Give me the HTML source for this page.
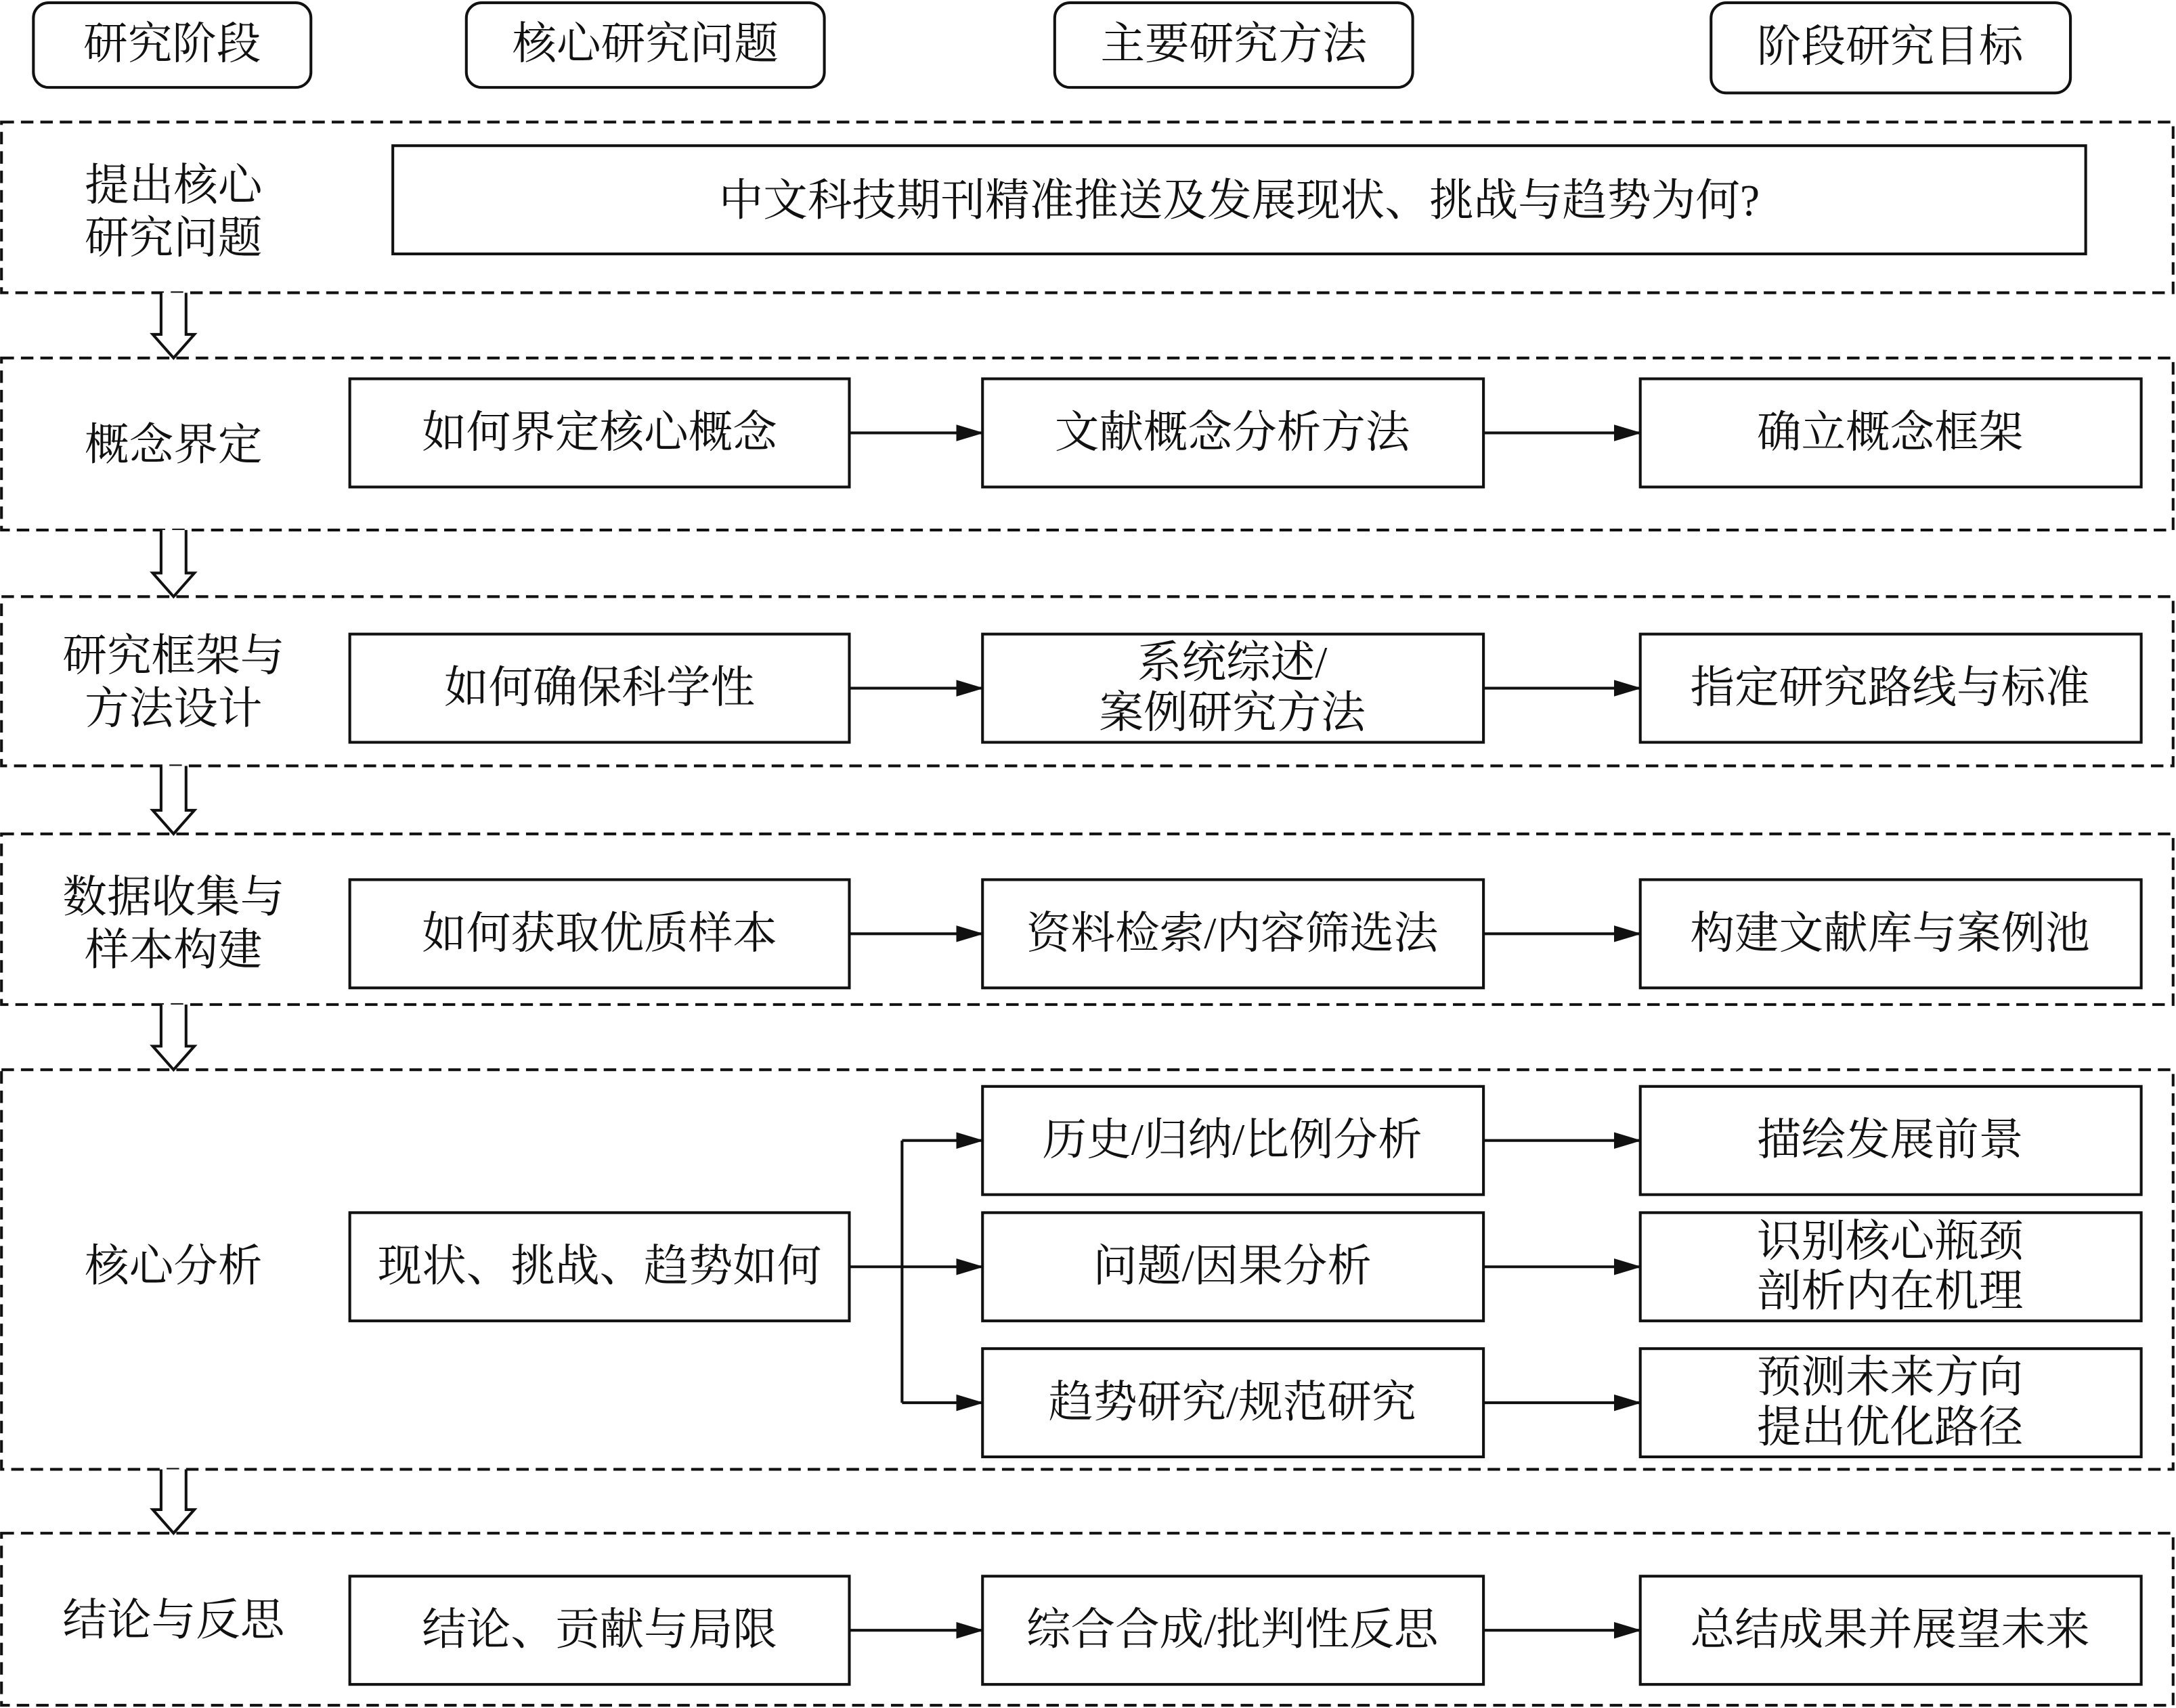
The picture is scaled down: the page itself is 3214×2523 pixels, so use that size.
<!DOCTYPE html>
<html><head><meta charset="utf-8"><style>
html,body{margin:0;padding:0;background:#fff;}
svg{display:block;}
text{font-family:"Liberation Serif","Noto Serif CJK SC",serif;font-size:32px;fill:#111;text-anchor:middle;dominant-baseline:central;}
</style></head><body>
<svg width="3214" height="2523" viewBox="0 0 1568 1231" xmlns="http://www.w3.org/2000/svg">
<defs>
<marker id="a" markerWidth="20" markerHeight="12" refX="19" refY="6" orient="auto" markerUnits="userSpaceOnUse">
<path d="M0,0 L20,6 L0,12 z" fill="#111"/></marker>
</defs>
<g fill="none" stroke="#111" stroke-width="2">
<rect x="24" y="2" width="200" height="61" rx="11"/>
<rect x="336" y="2" width="258" height="61" rx="11"/>
<rect x="760" y="2" width="258" height="61" rx="11"/>
<rect x="1233" y="2" width="259" height="65" rx="11"/>
<g stroke-dasharray="9,5">
<rect x="1" y="88" width="1565" height="123"/>
<rect x="1" y="258" width="1565" height="124"/>
<rect x="1" y="430" width="1565" height="122"/>
<rect x="1" y="601" width="1565" height="123"/>
<rect x="1" y="771" width="1565" height="288"/>
<rect x="1" y="1105" width="1565" height="124"/>
</g>
<rect x="283" y="105" width="1220" height="78"/>
<rect x="252" y="273" width="360" height="78"/><rect x="708" y="273" width="361" height="78"/><rect x="1182" y="273" width="361" height="78"/>
<rect x="252" y="457" width="360" height="78"/><rect x="708" y="457" width="361" height="78"/><rect x="1182" y="457" width="361" height="78"/>
<rect x="252" y="634" width="360" height="78"/><rect x="708" y="634" width="361" height="78"/><rect x="1182" y="634" width="361" height="78"/>
<rect x="252" y="874" width="360" height="78"/>
<rect x="708" y="783" width="361" height="78"/><rect x="1182" y="783" width="361" height="78"/>
<rect x="708" y="874" width="361" height="78"/><rect x="1182" y="874" width="361" height="78"/>
<rect x="708" y="972" width="361" height="78"/><rect x="1182" y="972" width="361" height="78"/>
<rect x="252" y="1136" width="360" height="78"/><rect x="708" y="1136" width="361" height="78"/><rect x="1182" y="1136" width="361" height="78"/>
<g marker-end="url(#a)">
<path d="M612,312H708"/><path d="M1069,312H1182"/>
<path d="M612,496H708"/><path d="M1069,496H1182"/>
<path d="M612,673H708"/><path d="M1069,673H1182"/>
<path d="M612,913H708"/><path d="M650,822H708"/><path d="M650,1011H708"/>
<path d="M1069,822H1182"/><path d="M1069,913H1182"/><path d="M1069,1011H1182"/>
<path d="M612,1175H708"/><path d="M1069,1175H1182"/>
</g>
<path d="M650,822V1011"/>
<g fill="#fff">
<path d="M116,211V241H110L125,258L140,241H134V211"/>
<path d="M116,382V413H110L125,430L140,413H134V382"/>
<path d="M116,552V584H110L125,601L140,584H134V552"/>
<path d="M116,724V754H110L125,771L140,754H134V724"/>
<path d="M116,1059V1088H110L125,1105L140,1088H134V1059"/>
</g>
</g>
<text x="124" y="32">研究阶段</text>
<text x="465" y="32">核心研究问题</text>
<text x="889" y="32">主要研究方法</text>
<text x="1362" y="34">阶段研究目标</text>
<text x="125" y="134">提出核心</text><text x="125" y="172">研究问题</text>
<text x="893" y="145">中文科技期刊精准推送及发展现状、挑战与趋势为何?</text>
<text x="125" y="321">概念界定</text>
<text x="432" y="312">如何界定核心概念</text><text x="888" y="312">文献概念分析方法</text><text x="1362" y="312">确立概念框架</text>
<text x="125" y="473">研究框架与</text><text x="125" y="511">方法设计</text>
<text x="432" y="496">如何确保科学性</text><text x="888" y="478">系统综述/</text><text x="888" y="514">案例研究方法</text><text x="1362" y="496">指定研究路线与标准</text>
<text x="125" y="647">数据收集与</text><text x="125" y="685">样本构建</text>
<text x="432" y="673">如何获取优质样本</text><text x="888" y="673">资料检索/内容筛选法</text><text x="1362" y="673">构建文献库与案例池</text>
<text x="125" y="913">核心分析</text>
<text x="432" y="913">现状、挑战、趋势如何</text>
<text x="888" y="822">历史/归纳/比例分析</text><text x="1362" y="822">描绘发展前景</text>
<text x="888" y="913">问题/因果分析</text><text x="1362" y="895">识别核心瓶颈</text><text x="1362" y="931">剖析内在机理</text>
<text x="888" y="1011">趋势研究/规范研究</text><text x="1362" y="993">预测未来方向</text><text x="1362" y="1029">提出优化路径</text>
<text x="125" y="1168">结论与反思</text>
<text x="432" y="1175">结论、贡献与局限</text><text x="888" y="1175">综合合成/批判性反思</text><text x="1362" y="1175">总结成果并展望未来</text>
</svg>
</body></html>
